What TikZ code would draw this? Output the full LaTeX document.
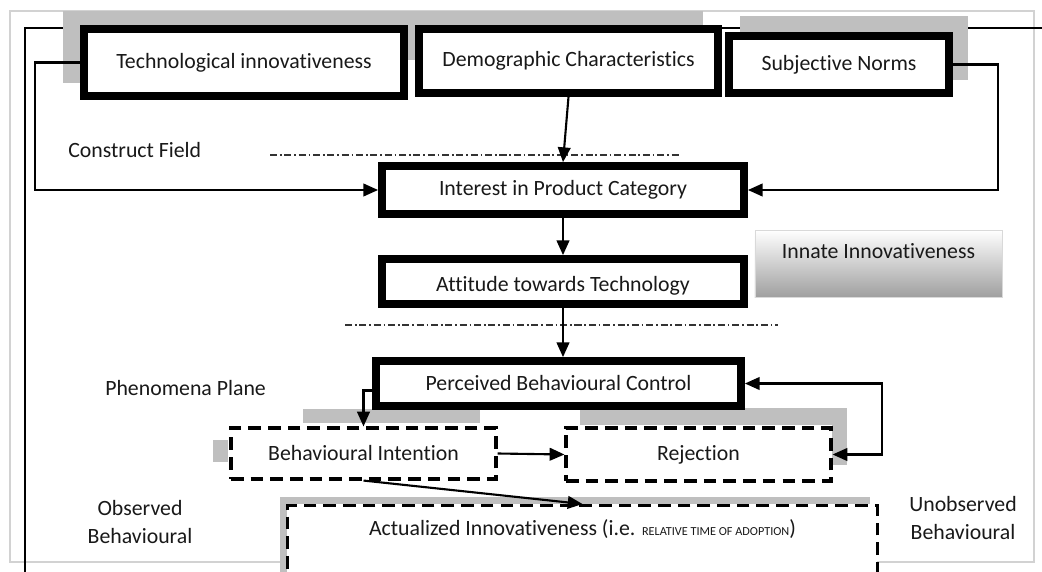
\documentclass[tikz,border=0pt]{standalone}
\usepackage{fontspec}
\setmainfont{Carlito}[Ligatures={NoCommon,NoContextual}, Contextuals=NoAlternate]
\usetikzlibrary{arrows.meta,positioning}

\tikzset{
	thickbox/.style={draw, line width=5.5pt, fill=white, inner sep=0pt, font=\fontsize{15.5}{18}\selectfont, text=black!90},
	dashbox/.style={draw, line width=2.2pt, dash pattern=on 9pt off 5pt, fill=white, inner sep=0pt, font=\fontsize{15.5}{18}\selectfont, text=black!90},
	shadowbar/.style={fill=gray!50, draw=none},
	arr/.style={line width=1.5pt, -{Triangle[length=10.5pt,width=9pt]}},
	planeline/.style={line width=1.4pt, gray!40!black, dash pattern=on 5pt off 2pt on 1.2pt off 2pt},
	lbl/.style={font=\fontsize{15.5}{20.5}\selectfont, align=center, inner sep=0pt, text=black!90}
}

\begin{document}
\begin{tikzpicture}[x=0.025cm, y=-0.025cm]
	\path[use as bounding box, clip] (0,0) rectangle (1042,572);
	\fill[white] (0,0) rectangle (1042,572);
	% frames
	\draw[gray!35, line width=1pt] (10,11) rectangle (1034,562);
	\draw[line width=1.2pt] (25,580) -- (25,28) -- (1050,28);
	% shadows
	\fill[shadowbar] (63,11) rectangle (405,83);
	\fill[shadowbar] (398,11) rectangle (703,60);
	\fill[shadowbar] (740,16) rectangle (968,80);
	\fill[shadowbar] (303,409) rectangle (480,423);
	\fill[shadowbar] (213,440) rectangle (228,462);
	\fill[shadowbar] (580,408) rectangle (847,425);
	\fill[shadowbar] (832,408) rectangle (847,465);
	\fill[shadowbar] (280,497) rectangle (870,504);
	\fill[shadowbar] (280,497) rectangle (287,580);
	% construct field
	\node[thickbox, minimum width=8cm, minimum height=1.675cm] (tech) at (244,62.5) {Technological innovativeness};
	\node[thickbox, minimum width=7.475cm, minimum height=1.6cm] (demo) at (568.5,61) {Demographic Characteristics};
	\node[thickbox, minimum width=5.5cm, minimum height=1.425cm] (subj) at (839,64.5) {Subjective Norms};
	\node[thickbox, minimum width=9.05cm, minimum height=1.2cm] (interest) at (563,190) {Interest in Product Category};
	\node[thickbox, minimum width=9.05cm, minimum height=1.125cm, text height=0.6cm, text depth=0.1cm] (attitude) at (563,281.5) {Attitude towards Technology};
	\node[draw=gray!30, top color=white, bottom color=gray!75, minimum width=6.175cm, minimum height=1.675cm, text height=0.35cm, text depth=0.6cm, inner sep=0pt, font=\fontsize{15.5}{18}\selectfont, text=black!90] (innate) at (878.5,263.5) {Innate Innovativeness};
	% phenomena plane
	\node[thickbox, minimum width=9.125cm, minimum height=1.125cm] (pbc) at (558.5,383.5) {Perceived Behavioural Control};
	\node[dashbox, minimum width=6.625cm, minimum height=1.275cm] (bi) at (363.5,453.5) {Behavioural Intention};
	\node[dashbox, minimum width=6.625cm, minimum height=1.325cm] (reject) at (698.5,454.5) {Rejection};
	\node[dashbox, anchor=north, minimum width=14.725cm, text height=0.35cm, text depth=1.6cm, inner ysep=0.4cm] (actual) at (582.5,504) {Actualized Innovativeness (i.e. {\fontsize{8.7}{9}\selectfont RELATIVE TIME OF ADOPTION})};
	% plane lines
	\draw[planeline] (270,155) -- (680,155);
	\draw[planeline] (345,325) -- (778,325);
	% connectors
	\draw[arr] (tech.west) -- ++(-45,0) |- (interest.west);
	\draw[arr] (demo.south) -- (interest.north);
	\draw[arr] (subj.east) -- ++(45,0) |- (interest.east);
	\draw[arr] (interest.south) -- (attitude.north);
	\draw[arr] (attitude.south) -- (attitude.south |- pbc.north);
	\draw[arr] ([yshift=-5pt]pbc.west) -| (bi.north);
	\draw[{Triangle[length=10.5pt,width=9pt]}-{Triangle[length=10.5pt,width=9pt]}, line width=1.5pt] (pbc.east) -- ++(137,0) |- (reject.east);
	\draw[arr] (bi.east) -- (reject.west);
	\draw[arr] (bi.south) -- (actual.north);
	% labels
	\node[lbl, anchor=west] (construct) at (68,150) {Construct Field};
	\node[lbl, anchor=west] (phenomena) at (105,388) {Phenomena Plane};
	\node[lbl] (observed) at (140,522) {Observed\\Behavioural};
	\node[lbl] (unobserved) at (963,518) {Unobserved\\Behavioural};
\end{tikzpicture}
\end{document}
